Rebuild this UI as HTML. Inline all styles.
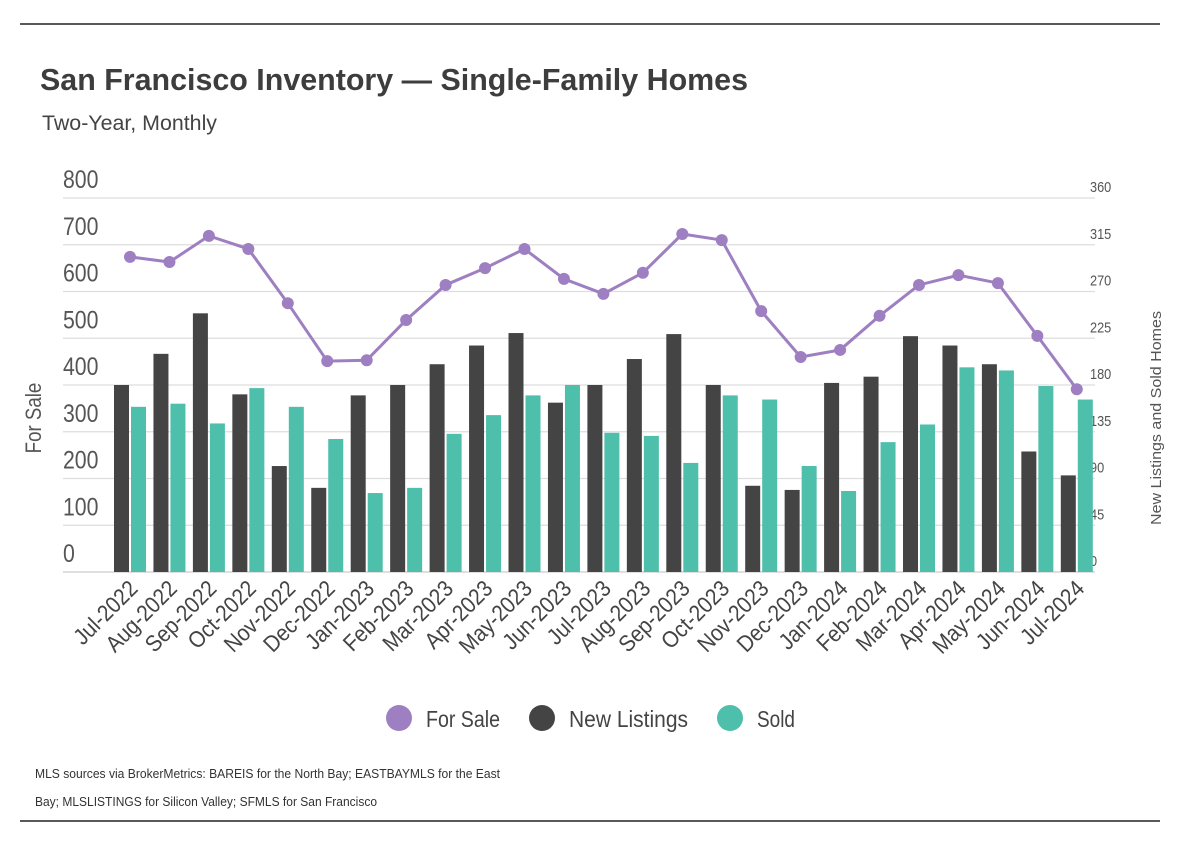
<!DOCTYPE html>
<html><head><meta charset="utf-8"><style>
body{margin:0;background:#fff;}
svg text{font-family:"Liberation Sans Narrow","Liberation Sans",sans-serif;}
</style></head><body>
<svg id="chart" width="1184" height="858" xmlns="http://www.w3.org/2000/svg">
<line x1="20" y1="24" x2="1160" y2="24" stroke="#222" stroke-width="1.5"/>
<line x1="20" y1="821" x2="1160" y2="821" stroke="#222" stroke-width="1.5"/>
<text x="40" y="90" font-size="31" font-weight="bold" fill="#3d3d3d" textLength="708" lengthAdjust="spacingAndGlyphs">San Francisco Inventory — Single-Family Homes</text>
<text x="42" y="130" font-size="21" fill="#444" textLength="175" lengthAdjust="spacingAndGlyphs">Two-Year, Monthly</text>
<g id="grid"></g><g id="bars"></g><g id="line"></g><g id="xlabels"></g>
<text transform="translate(41,418) rotate(-90) scale(0.85,1)" text-anchor="middle" font-size="22" fill="#555">For Sale</text>
<text x="0" y="0" transform="translate(1161,418) rotate(-90)" text-anchor="middle" font-size="15" fill="#555" textLength="214" lengthAdjust="spacingAndGlyphs">New Listings and Sold Homes</text>
<g>
<circle cx="399" cy="718" r="13" fill="#9e7fc1"/>
<text x="426" y="727" font-size="23" fill="#444" textLength="74" lengthAdjust="spacingAndGlyphs">For Sale</text>
<circle cx="542" cy="718" r="13" fill="#444"/>
<text x="569" y="727" font-size="23" fill="#444" textLength="119" lengthAdjust="spacingAndGlyphs">New Listings</text>
<circle cx="730" cy="718" r="13" fill="#4dbfaa"/>
<text x="757" y="727" font-size="23" fill="#444" textLength="38" lengthAdjust="spacingAndGlyphs">Sold</text>
</g>
<text x="35" y="778" font-size="13" fill="#333" textLength="465" lengthAdjust="spacingAndGlyphs">MLS sources via BrokerMetrics: BAREIS for the North Bay; EASTBAYMLS for the East</text>
<text x="35" y="806" font-size="13" fill="#333" textLength="342" lengthAdjust="spacingAndGlyphs">Bay; MLSLISTINGS for Silicon Valley; SFMLS for San Francisco</text>
</svg>
<script>
const categories=["Jul-2022","Aug-2022","Sep-2022","Oct-2022","Nov-2022","Dec-2022","Jan-2023","Feb-2023","Mar-2023","Apr-2023","May-2023","Jun-2023","Jul-2023","Aug-2023","Sep-2023","Oct-2023","Nov-2023","Dec-2023","Jan-2024","Feb-2024","Mar-2024","Apr-2024","May-2024","Jun-2024","Jul-2024"];
const forSale=[674,663,719,691,575,451,453,539,614,650,691,627,595,640,723,710,558,460,475,548,614,635,618,505,391];
const newListings=[180,210,249,171,102,81,170,180,200,218,230,163,180,205,229,180,83,79,182,188,227,218,200,116,93];
const sold=[159,162,143,177,159,128,76,81,133,151,170,180,134,131,105,170,166,102,78,125,142,197,194,179,166];
const leftTicks=[0,100,200,300,400,500,600,700,800];
const rightTicks=[0,45,90,135,180,225,270,315,360];
const NS="http://www.w3.org/2000/svg";
const y0=572,yTop=198,x0=114,step=39.45;
const yL=v=>y0-(v/800)*(y0-yTop);
const yR=v=>y0-(v/360)*(y0-yTop);
const gx=i=>x0+i*step;
function mk(tag,attrs,parent,txt){const e=document.createElementNS(NS,tag);for(const k in attrs)e.setAttribute(k,attrs[k]);if(txt!==undefined)e.textContent=txt;document.getElementById(parent).appendChild(e);return e;}
leftTicks.forEach((t,i)=>{
 const l=mk('line',{x1:63,x2:1095,y1:yL(t),y2:yL(t),stroke:i==0?'#ccc':'#ddd','stroke-width':1.3},'grid');
 
 
 const tx=mk('text',{transform:`translate(63,${yL(t)-10}) scale(0.85,1)`,'font-size':25,fill:'#555'},'grid',t);
 
 
});
rightTicks.forEach(t=>{
 const tx=mk('text',{transform:`translate(1090,${yR(t)-6}) scale(0.85,1)`,'font-size':15,fill:'#555'},'grid',t);
 
 
});
categories.forEach((c,i)=>{
 const x=gx(i);
 const b1=mk('rect',{x:x,y:yR(newListings[i]),width:15,height:y0-yR(newListings[i]),fill:'#444'},'bars');
 
 
 const b2=mk('rect',{x:x+17,y:yR(sold[i]),width:15,height:y0-yR(sold[i]),fill:'#4dbfaa'},'bars');
 
 
 const lb=mk('text',{transform:`translate(${x+25},590) rotate(-45) scale(0.9,1)`,'text-anchor':'end','font-size':23,fill:'#444'},'xlabels',c);
 
 
});
const pts=forSale.map((v,i)=>(gx(i)+16)+','+yL(v)).join(' ');
const pl=mk('polyline',{points:pts,fill:'none',stroke:'#9e7fc1','stroke-width':3},'line');


forSale.forEach((v,i)=>{
 const c=mk('circle',{cx:gx(i)+16,cy:yL(v),r:6,fill:'#9e7fc1'},'line');
 
 
});
</script>
</body></html>
